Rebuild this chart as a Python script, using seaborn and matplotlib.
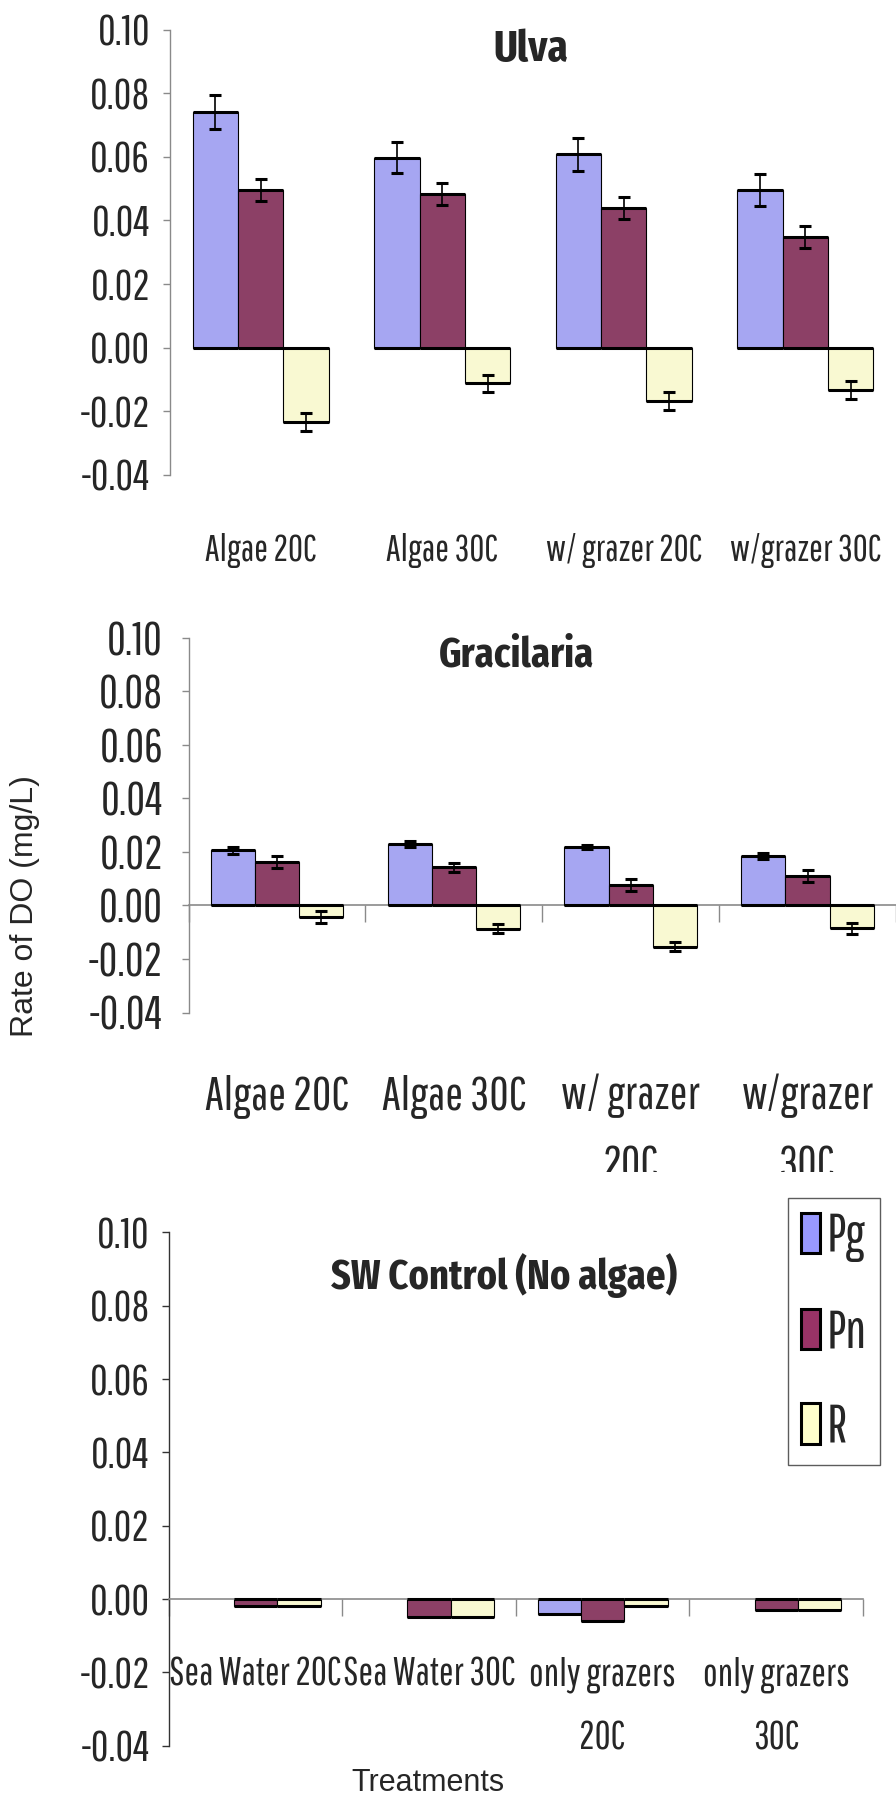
import numpy as np
import pandas as pd
import matplotlib
matplotlib.use("Agg")
import matplotlib.pyplot as plt
import matplotlib.patches as mpatches
from matplotlib.transforms import Bbox, TransformedBbox
from matplotlib.ticker import FixedLocator, FormatStrFormatter
import seaborn as sns

# ---------------- data ----------------
measures = ["Pg", "Pn", "R"]
colors = ["#9999FF", "#993366", "#FFFFCC"]

algae_cats = ["Algae 20C", "Algae 30C", "w/ grazer 20C", "w/grazer 30C"]
ulva_labels = ["Algae 20C", "Algae 30C", "w/ grazer 20C", "w/grazer 30C"]
grac_labels = ["Algae 20C", "Algae 30C", "w/ grazer\n20C", "w/grazer\n30C"]
sw_cats = ["Sea Water 20C", "Sea Water 30C", "only grazers 20C", "only grazers 30C"]
sw_labels = ["Sea Water 20C", "Sea Water 30C", "only grazers\n20C", "only grazers\n30C"]

ulva_pg = [0.0742, 0.0598, 0.0608, 0.0496]
ulva_pn = [0.0496, 0.0484, 0.0439, 0.0348]
ulva_r = [-0.0235, -0.0113, -0.0168, -0.0133]
ulva_pg_err = [0.0053, 0.0050, 0.0052, 0.0050]
ulva_pn_err = [0.0035, 0.0035, 0.0034, 0.0035]
ulva_r_err = [0.0028, 0.0028, 0.0028, 0.0028]

grac_pg = [0.0206, 0.0228, 0.0219, 0.0185]
grac_pn = [0.0163, 0.0142, 0.0076, 0.0109]
grac_r = [-0.0043, -0.0087, -0.0154, -0.0086]
grac_pg_err = [0.0013, 0.0011, 0.0007, 0.0012]
grac_pn_err = [0.0023, 0.0017, 0.0022, 0.0023]
grac_r_err = [0.0022, 0.0017, 0.0018, 0.0022]

sw_pg = [np.nan, np.nan, -0.0040, np.nan]
sw_pn = [-0.0019, -0.0049, -0.0059, -0.0029]
sw_r = [-0.0019, -0.0049, -0.0019, -0.0029]

y_ticks = [-0.04, -0.02, 0.00, 0.02, 0.04, 0.06, 0.08, 0.10]

# ---------------- style ----------------
sns.set_theme(style="white")
NARROW = ["Pathway Gothic One", "DejaVu Sans"]
BOLDN = ["Fira Sans Extra Condensed", "DejaVu Sans"]
ARIAL = ["Liberation Sans", "DejaVu Sans"]
plt.rcParams["font.family"] = NARROW
plt.rcParams["axes.unicode_minus"] = False

W, H = 896, 1796
fig = plt.figure(figsize=(W / 100, H / 100), dpi=100)


def long_df(cats, pg, pn, r):
    rows = []
    for m, vals in zip(measures, [pg, pn, r]):
        for c, v in zip(cats, vals):
            rows.append({"Treatment": c, "Measure": m, "Value": v})
    return pd.DataFrame(rows)


def make_panel(rect, cats, pg, pn, r, spine_color):
    ax = fig.add_axes(rect)
    df = long_df(cats, pg, pn, r)
    sns.barplot(data=df, x="Treatment", y="Value", hue="Measure", order=cats,
                hue_order=measures, palette=colors, width=0.75, errorbar=None,
                edgecolor="black", linewidth=0.8, legend=False, ax=ax)
    # thick horizontal bar edges (value end and zero end)
    for cont in ax.containers:
        for p in cont.patches:
            x0, w = p.get_x(), p.get_width()
            y0, h = p.get_y(), p.get_height()
            if np.isnan(h):
                continue
            ax.hlines([y0, y0 + h], x0, x0 + w, colors="black", lw=2.2, zorder=3)
    ax.set_xlim(-0.5, 3.5)
    ax.set_ylim(-0.04, 0.10)
    ax.set_xlabel("")
    ax.set_ylabel("")
    ax.yaxis.set_major_locator(FixedLocator(y_ticks))
    ax.yaxis.set_major_formatter(FormatStrFormatter("%.2f"))
    for s in ["top", "right"]:
        ax.spines[s].set_visible(False)
    ax.spines["left"].set_color(spine_color)
    ax.spines["left"].set_linewidth(1.0)
    ax.tick_params(axis="y", which="major", left=True, direction="out",
                   length=5.4, width=1.0, color=spine_color)
    return ax


def add_errors(ax, errs):
    for cont, err in zip(ax.containers, errs):
        xs = [p.get_x() + p.get_width() / 2 for p in cont.patches]
        ys = [p.get_y() + p.get_height() for p in cont.patches]
        ax.errorbar(xs, ys, yerr=err, fmt="none", ecolor="black",
                    elinewidth=1.2, capsize=4.5, capthick=2.2, zorder=4)


# ---------------- Ulva ----------------
ax1 = make_panel([170 / W, 1 - 474.6 / H, 726 / W, (474.6 - 29.9) / H],
                 algae_cats, ulva_pg, ulva_pn, ulva_r, "#8a8a8a")
add_errors(ax1, [ulva_pg_err, ulva_pn_err, ulva_r_err])
ax1.spines["bottom"].set_visible(False)
ax1.set_xticks(range(len(algae_cats)))
ax1.set_xticklabels(ulva_labels, fontsize=26.5)
ax1.tick_params(axis="x", length=0, pad=42)
ax1.tick_params(axis="y", labelsize=31, pad=9)
ax1.text(0.497, 0.955, "Ulva", transform=ax1.transAxes, ha="center",
         va="center", fontsize=32, fontweight="bold", family=BOLDN)

# ---------------- Gracilaria ----------------
ax2 = make_panel([188.6 / W, 1 - 1012.5 / H, (W - 188.6) / W, (1012.5 - 637.7) / H],
                 algae_cats, grac_pg, grac_pn, grac_r, "#8a8a8a")
add_errors(ax2, [grac_pg_err, grac_pn_err, grac_r_err])
ax2.spines["bottom"].set_visible(False)
ax2.set_xticks(range(len(algae_cats)))
ax2.set_xticklabels(grac_labels, fontsize=34, linespacing=1.75)
ax2.tick_params(axis="x", length=0, pad=44)
ax2.tick_params(axis="y", labelsize=33, pad=13)
sec2 = ax2.secondary_xaxis(0, transform=ax2.transData)
sec2.set_xticks([-0.5, 0.5, 1.5, 2.5, 3.5])
sec2.set_xticklabels([])
sec2.spines["bottom"].set_color("#8a8a8a")
sec2.spines["bottom"].set_linewidth(1.2)
sec2.tick_params(axis="x", direction="out", length=12, width=1.0, color="#8a8a8a")
ax2.text(0.464, 0.954, "Gracilaria", transform=ax2.transAxes, ha="center",
         va="center", fontsize=30, fontweight="bold", family=BOLDN)
clip = TransformedBbox(Bbox([[0, 1 - 1171.7 / H], [1, 1]]), fig.transFigure)
for lab in ax2.get_xticklabels():
    lab.set_clip_box(clip)
    lab.set_clip_on(True)

# ---------------- SW Control ----------------
ax3 = make_panel([168.6 / W, 1 - 1745.8 / H, (863 - 168.6) / W, (1745.8 - 1232.3) / H],
                 sw_cats, sw_pg, sw_pn, sw_r, "#333333")
ax3.spines["bottom"].set_position(("data", 0))
ax3.spines["bottom"].set_color("#8a8a8a")
ax3.spines["bottom"].set_linewidth(1.2)
ax3.set_xticks(range(len(sw_cats)))
ax3.set_xticklabels(sw_labels, fontsize=28, linespacing=1.95)
ax3.xaxis.set_minor_locator(FixedLocator([-0.5, 0.5, 1.5, 2.5, 3.5]))
ax3.tick_params(axis="x", which="major", length=0, pad=41)
ax3.tick_params(axis="x", which="minor", bottom=True, direction="out",
                length=12, width=1.0, color="#8a8a8a")
ax3.tick_params(axis="y", labelsize=31, pad=8)
ax3.text(0.483, 0.915, "SW Control (No algae)", transform=ax3.transAxes,
         ha="center", va="center", fontsize=30, fontweight="bold", family=BOLDN)

# legend
handles = [mpatches.Patch(facecolor=c, edgecolor="black", linewidth=2.2) for c in colors]
leg = fig.legend(handles, measures, loc="upper right",
                 bbox_to_anchor=(880 / W, 1 - 1198 / H), bbox_transform=fig.transFigure,
                 fontsize=38, frameon=True, fancybox=False, borderaxespad=0,
                 handlelength=0.36, handleheight=0.8, labelspacing=0.85,
                 borderpad=0.25, handletextpad=0.12)
leg.get_frame().set_edgecolor("#333333")
leg.get_frame().set_linewidth(1.0)

# shared axis labels
fig.text(25 / W, 1 - 906 / H, "Rate of DO (mg/L)", rotation=90, ha="center",
         va="center", fontsize=23, family=ARIAL)
fig.text(428 / W, 1 - 1783 / H, "Treatments", ha="center", va="center",
         fontsize=22, family=ARIAL)

fig.savefig("out.png", dpi=100)
